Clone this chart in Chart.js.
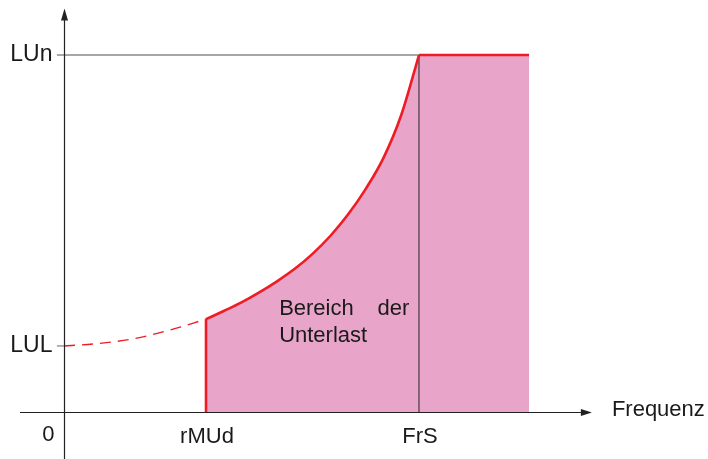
<!DOCTYPE html>
<html>
<head>
<meta charset="utf-8">
<script src="https://cdn.jsdelivr.net/npm/chart.js@4/dist/chart.umd.min.js"></script>
<style>
  html, body { margin: 0; padding: 0; background: #ffffff; }
  #wrap { width: 708px; height: 459px; }
</style>
</head>
<body>
<div id="wrap"><canvas id="c" width="708" height="459"></canvas></div>
<script>
// Levels and frequencies (relative units: FrS = 100, LUn = 100)
const levelLUn = 100;
const levelLUL = 18.5;
const freqRMUd = 40;
const freqFrS = 100;
const freqEnd = 131;

// Underload threshold curve between rMUd and FrS
const curveX = [40, 45, 50, 55, 60, 65, 70, 75, 80, 85, 90, 95, 100];
const curveY = [26.0, 28.3, 30.7, 33.5, 36.6, 40.1, 44.3, 49.3, 55.3, 62.5, 71.2, 83.2, 100];

// Extension of the curve below rMUd (dashed)
const dashX = [0, 10, 20, 30, 40];
const dashY = [18.5, 19.2, 20.6, 23.0, 26.0];

// Axis labels
const yTickValues = [levelLUn, levelLUL];
const yTickLabels = ['LUn', 'LUL'];
const xTickValues = [freqRMUd, freqFrS];
const xTickLabels = ['rMUd', 'FrS'];
const originLabel = '0';
const xAxisTitle = 'Frequenz';
const areaLabel = ['Bereich', 'der', 'Unterlast'];

const RED = '#ee1c25';
const PINK = '#e9a5c9';
const FONT = '"Liberation Sans", Arial, Helvetica, sans-serif';

const pts = (xs, ys) => xs.map((x, i) => ({ x, y: ys[i] }));
const curvePts = pts(curveX, curveY);

const decorations = {
  id: 'decorations',
  afterDraw(chart) {
    const { ctx, scales: { x, y } } = chart;
    const x0 = Math.round(x.getPixelForValue(0)) + 0.5;
    const y0 = Math.round(y.getPixelForValue(0)) + 0.5;
    ctx.save();
    ctx.strokeStyle = '#222';
    ctx.fillStyle = '#222';
    ctx.lineWidth = 1.2;

    // horizontal axis with arrow
    const xL = x.getPixelForValue(-12.4);
    const xR = x.getPixelForValue(148.7);
    ctx.beginPath();
    ctx.moveTo(xL, y0);
    ctx.lineTo(xR - 6, y0);
    ctx.stroke();
    ctx.beginPath();
    ctx.moveTo(xR, y0);
    ctx.lineTo(xR - 11, y0 - 3.5);
    ctx.lineTo(xR - 11, y0 + 3.5);
    ctx.closePath();
    ctx.fill();

    // vertical axis with arrow
    const yT = y.getPixelForValue(113);
    const yB = y.getPixelForValue(-13.2);
    ctx.beginPath();
    ctx.moveTo(x0, yB);
    ctx.lineTo(x0, yT + 6);
    ctx.stroke();
    ctx.beginPath();
    ctx.moveTo(x0, yT);
    ctx.lineTo(x0 - 3.5, yT + 12);
    ctx.lineTo(x0 + 3.5, yT + 12);
    ctx.closePath();
    ctx.fill();

    // labels
    ctx.fillStyle = '#1a1a1a';
    ctx.textBaseline = 'middle';
    ctx.textAlign = 'right';
    ctx.font = '23px ' + FONT;
    yTickValues.forEach((v, i) => {
      ctx.fillText(yTickLabels[i], x0 - 12, y.getPixelForValue(v));
    });
    ctx.font = '22px ' + FONT;
    ctx.fillText(originLabel, x0 - 10, y0 + 22);
    ctx.textAlign = 'center';
    xTickValues.forEach((v, i) => {
      ctx.fillText(xTickLabels[i], x.getPixelForValue(v) + 1, y0 + 24);
    });
    ctx.textAlign = 'left';
    ctx.fillText(xAxisTitle, xR + 20, y0 - 3);

    ctx.textBaseline = 'alphabetic';
    ctx.textAlign = 'left';
    const tx = x.getPixelForValue(60.6);
    ctx.fillText(areaLabel[0], tx, y.getPixelForValue(27.3));
    ctx.fillText(areaLabel[2], tx, y.getPixelForValue(19.6));
    ctx.textAlign = 'right';
    ctx.fillText(areaLabel[1], x.getPixelForValue(97.3), y.getPixelForValue(27.3));
    ctx.restore();
  }
};

new Chart(document.getElementById('c'), {
  type: 'line',
  data: {
    datasets: [
      { data: curvePts, fill: 'origin', backgroundColor: PINK, borderWidth: 0,
        cubicInterpolationMode: 'monotone', order: 6 },
      { data: pts([freqFrS, freqEnd], [levelLUn, levelLUn]), fill: 'origin',
        backgroundColor: PINK, borderWidth: 0, order: 6 },
      { data: pts([-2, freqFrS], [levelLUn, levelLUn]), borderColor: '#8a8a8a',
        borderWidth: 1.3, order: 5 },
      { data: pts([-2, 0], [levelLUL, levelLUL]), borderColor: '#8a8a8a',
        borderWidth: 1.3, order: 5 },
      { data: pts([freqFrS, freqFrS], [0, levelLUn]), borderColor: '#222',
        borderWidth: 1, order: 4 },
      { data: curvePts, borderColor: RED, borderWidth: 2.6,
        cubicInterpolationMode: 'monotone', order: 1 },
      { data: pts([freqFrS, freqEnd], [levelLUn, levelLUn]), borderColor: RED,
        borderWidth: 2.6, order: 1 },
      { data: pts([freqRMUd, freqRMUd], [0, curveY[0]]), borderColor: RED,
        borderWidth: 2.6, order: 1 },
      { data: pts(dashX, dashY), borderColor: RED, borderWidth: 1.4,
        borderDash: [11, 7], cubicInterpolationMode: 'monotone', order: 1 }
    ]
  },
  options: {
    responsive: false,
    animation: false,
    devicePixelRatio: 1,
    layout: { padding: 0 },
    elements: { point: { radius: 0, hoverRadius: 0 }, line: { borderCapStyle: 'butt' } },
    scales: {
      x: { type: 'linear', min: -18.03, max: 181.41, display: false },
      y: { type: 'linear', min: -13.17, max: 115.41, display: false }
    },
    plugins: { legend: { display: false }, tooltip: { enabled: false } }
  },
  plugins: [decorations]
});
</script>
</body>
</html>
